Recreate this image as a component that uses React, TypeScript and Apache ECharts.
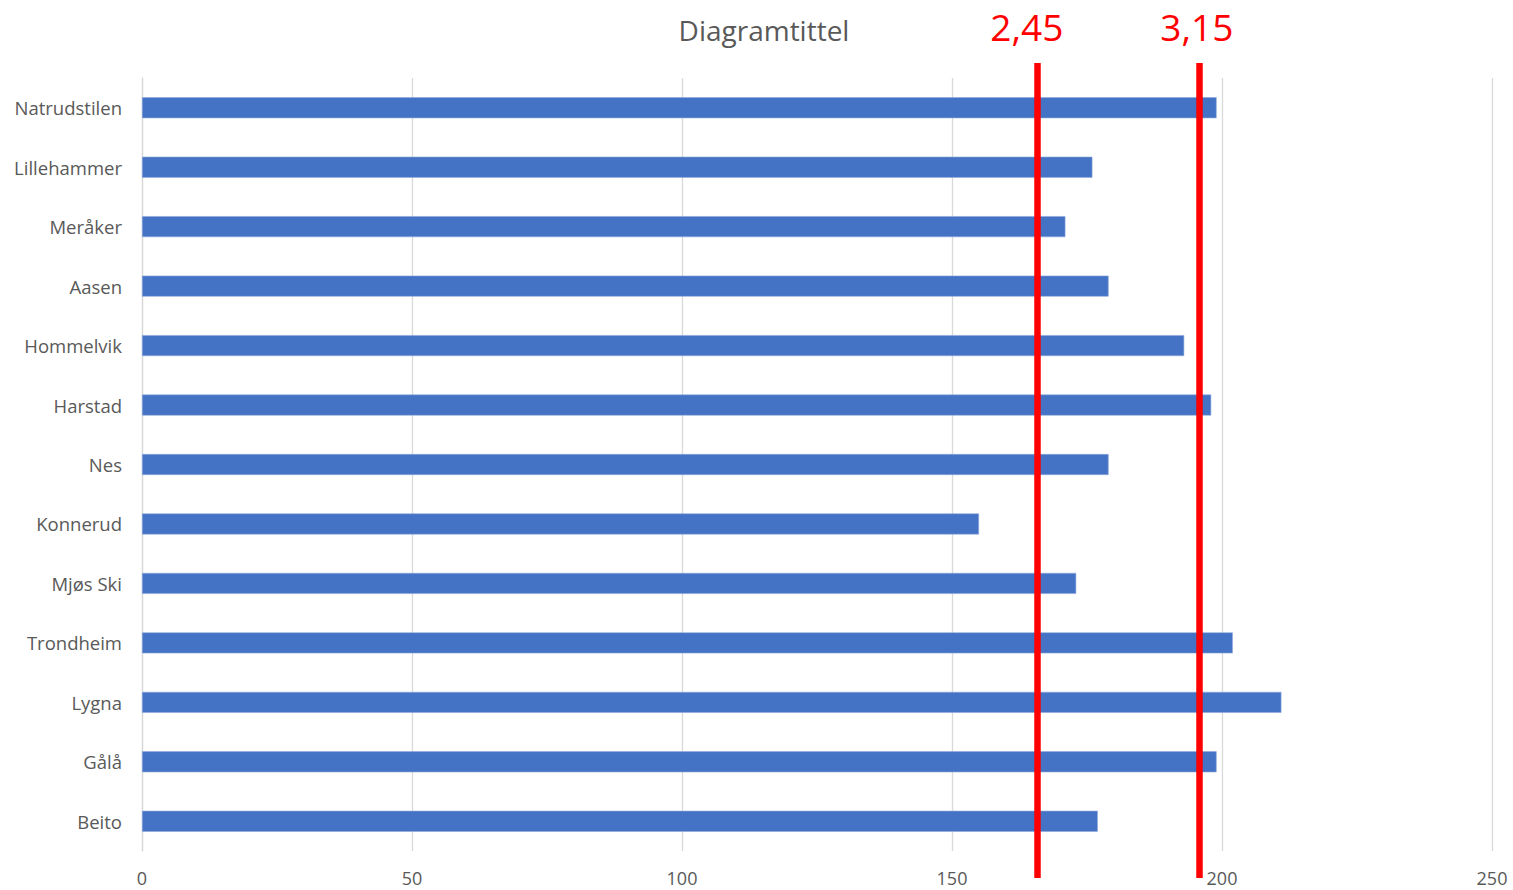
import React, { useEffect, useRef } from "react";
import * as echarts from "echarts";

// Clubs, top to bottom
const categories = [
  "Natrudstilen",
  "Lillehammer",
  "Meråker",
  "Aasen",
  "Hommelvik",
  "Harstad",
  "Nes",
  "Konnerud",
  "Mjøs Ski",
  "Trondheim",
  "Lygna",
  "Gålå",
  "Beito",
];

const values = [199, 176, 171, 179, 193, 198, 179, 155, 173, 202, 211, 199, 177];

// Reference lines and their captions
const refValues = [165.7, 195.7];
const refLabels = ["2,45", "3,15"];

const xTicks = { min: 0, max: 250, interval: 50 };

const FONT = "'Open Sans', 'Liberation Sans', sans-serif";
const TEXT = "#595959";
const GRID_LINE = "#d9d9d9";

export default function App() {
  const ref = useRef<HTMLDivElement>(null);

  useEffect(() => {
    if (!ref.current) return;
    const chart = echarts.init(ref.current, undefined, { renderer: "svg" });

    const option: echarts.EChartsOption = {
      animation: false,
      backgroundColor: "#ffffff",
      title: {
        text: "Diagramtittel",
        left: 759,
        textAlign: "center",
        top: 11,
        textStyle: { fontFamily: FONT, fontSize: 28, fontWeight: "normal", color: TEXT },
      },
      grid: [
        { left: 142, right: 21, top: 78, height: 773, containLabel: false },
        { left: 142, right: 21, top: 63, height: 815, containLabel: false },
      ],
      xAxis: [
        {
          type: "value",
          gridIndex: 0,
          min: xTicks.min,
          max: xTicks.max,
          interval: xTicks.interval,
          axisLine: { show: false },
          axisTick: { show: false },
          splitLine: { show: true, lineStyle: { color: GRID_LINE, width: 1.3 } },
          axisLabel: { fontFamily: FONT, fontSize: 18, color: TEXT, margin: 18 },
        },
        {
          type: "value",
          gridIndex: 1,
          min: xTicks.min,
          max: xTicks.max,
          show: false,
        },
      ],
      yAxis: [
        {
          type: "category",
          gridIndex: 0,
          data: categories,
          inverse: true,
          axisLine: { show: true, lineStyle: { color: GRID_LINE, width: 1.3 } },
          axisTick: { show: false },
          splitLine: { show: false },
          axisLabel: { fontFamily: FONT, fontSize: 18.5, color: TEXT, margin: 20 },
        },
        {
          type: "value",
          gridIndex: 1,
          min: 0,
          max: 1,
          show: false,
        },
      ],
      series: [
        {
          type: "bar",
          xAxisIndex: 0,
          yAxisIndex: 0,
          data: values,
          barWidth: 21,
          itemStyle: { color: "#4472c4", borderColor: "#8eaadb", borderWidth: 0.6 },
          emphasis: { disabled: true },
        },
        {
          type: "scatter",
          xAxisIndex: 1,
          yAxisIndex: 1,
          data: [[0, 0]],
          symbolSize: 0,
          silent: true,
          markLine: {
            silent: true,
            symbol: "none",
            lineStyle: { color: "#ff0000", width: 6.5, type: "solid" },
            emphasis: { disabled: true },
            label: {
              show: true,
              position: "end",
              fontFamily: FONT,
              fontSize: 37,
              color: "#ff0000",
              distance: 18,
            },
            data: refValues.map((v, i) => ({
              xAxis: v,
              label: {
                formatter: refLabels[i],
                offset: [i === 0 ? -10 : -2, 0],
              },
            })),
          },
        },
      ],
    };

    chart.setOption(option);
    return () => chart.dispose();
  }, []);

  return (
    <div
      ref={ref}
      style={{ position: "absolute", left: 0, top: 0, width: 1513, height: 890, background: "#fff" }}
    />
  );
}
